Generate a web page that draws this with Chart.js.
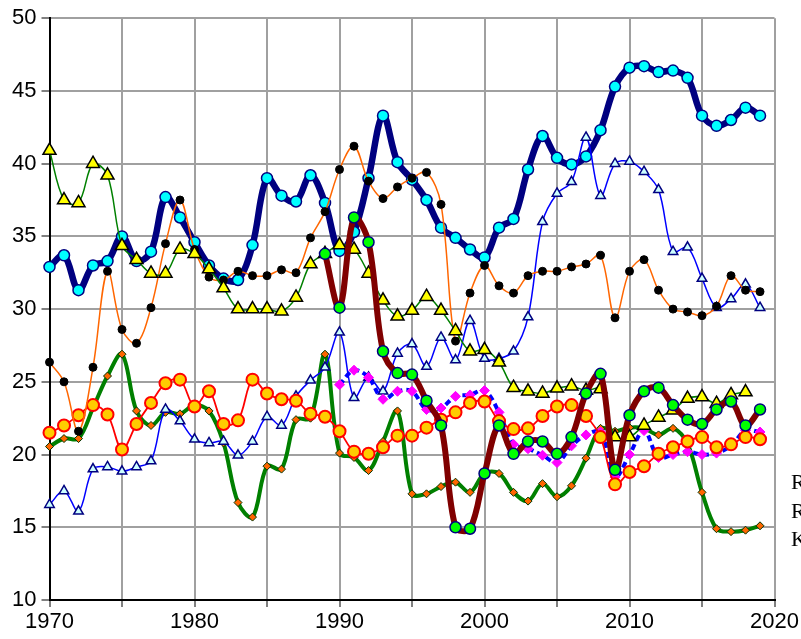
<!DOCTYPE html>
<html>
<head>
<meta charset="utf-8">
<script src="https://cdn.jsdelivr.net/npm/chart.js@4/dist/chart.umd.min.js"></script>
<style>
html,body{margin:0;padding:0;background:#fff;}
#wrap{position:relative;width:801px;height:639px;}
</style>
</head>
<body>
<div id="wrap"><canvas id="c" width="801" height="639"></canvas></div>
<script>
const years = [];
for (let y = 1970; y <= 2019; y++) years.push(y);

const navyCyan = [32.9,33.7,31.3,33.0,33.3,35.0,33.3,33.95,37.7,36.3,34.6,33.0,32.1,32.0,34.4,39.0,37.8,37.4,39.2,37.3,34.0,35.3,39.0,43.3,40.1,38.9,37.5,35.6,34.9,34.1,33.55,35.6,36.2,39.6,41.9,40.4,39.95,40.5,42.3,45.3,46.6,46.7,46.3,46.4,45.9,43.3,42.6,43.0,43.85,43.3];
const orangeBlack = [26.35,25.0,21.6,26.0,32.6,28.6,27.65,30.1,34.5,37.5,34.1,32.2,32.0,32.6,32.3,32.3,32.7,32.5,34.9,36.7,39.6,41.2,38.8,37.6,38.4,39.0,39.4,37.2,27.8,31.1,33.0,31.6,31.1,32.3,32.6,32.6,32.9,33.1,33.7,29.4,32.6,33.4,31.3,30.0,29.8,29.55,30.2,32.3,31.3,31.2];
const greenYellow = [40.9,37.5,37.3,40.0,39.2,34.35,33.4,32.45,32.45,34.1,33.8,32.75,31.45,30.0,30.0,30.0,29.85,30.8,33.1,33.8,34.4,34.1,32.45,30.6,29.5,29.9,30.85,29.9,28.5,27.1,27.2,26.35,24.6,24.35,24.2,24.55,24.7,24.4,24.5,21.2,21.2,22.0,22.55,23.05,23.85,23.95,23.5,24.1,24.3,null];
const blueOpen = [16.55,17.5,16.1,19.0,19.15,18.85,19.15,19.55,23.1,22.3,21.05,20.8,20.9,19.95,20.9,22.6,22.0,24.0,25.1,26.0,28.4,23.9,25.3,24.35,26.95,27.6,26.05,28.05,26.5,29.2,26.6,26.6,27.1,29.45,36.0,37.95,38.75,41.8,37.8,40.0,40.15,39.45,38.2,33.95,34.25,32.1,30.1,30.7,31.7,30.1];
const greenDiamond = [20.55,21.1,21.1,23.2,25.4,26.9,23.0,22.0,22.9,22.8,23.4,23.0,20.8,16.7,15.7,19.2,19.0,22.4,22.5,26.9,20.1,19.8,18.9,20.9,23.0,17.3,17.3,17.8,18.1,17.4,18.7,18.7,17.4,16.8,18.0,17.1,17.85,19.75,21.8,21.6,21.85,21.8,21.35,21.8,20.75,17.4,14.9,14.7,14.8,15.1];
const redGold = [21.5,22.0,22.7,23.4,22.75,20.35,22.1,23.55,24.9,25.15,23.3,24.35,22.1,22.35,25.15,24.2,23.8,23.7,22.8,22.6,21.6,20.2,20.05,20.5,21.3,21.3,21.85,22.4,22.9,23.55,23.65,22.3,21.75,21.8,22.65,23.3,23.4,22.65,21.2,17.95,18.8,19.2,20.05,20.5,20.9,21.2,20.5,20.7,21.2,21.05];
const maroonLime = [null,null,null,null,null,null,null,null,null,null,null,null,null,null,null,null,null,null,null,33.8,30.1,36.3,34.6,27.1,25.6,25.5,23.7,22.0,15.0,14.9,18.7,22.0,20.05,20.9,20.9,20.05,21.2,24.2,25.55,18.95,22.7,24.35,24.6,23.4,22.4,22.1,23.1,23.65,22.0,23.1];
const dashMagenta = [null,null,null,null,null,null,null,null,null,null,null,null,null,null,null,null,null,null,null,null,24.8,25.8,25.3,23.8,24.35,24.35,23.1,23.2,24.0,24.1,24.4,22.9,20.7,20.4,19.95,19.45,20.6,21.35,21.55,18.45,20.0,21.65,19.8,20.0,20.2,20.0,20.1,20.6,21.65,21.55];

const legendLetters = ["R", "R", "K"];
const xLabelYears = [1970,1980,1990,2000,2010,2020];

function pts(vals){ return years.map((yr,i)=>({x:yr, y:vals[i]})); }

const base = {tension:0.35, clip:false, spanGaps:false, pointHoverRadius:6};

const datasets = [
  Object.assign({}, base, {label:'maroon', data:pts(maroonLime), borderColor:'#800000', borderWidth:6,
    pointStyle:'circle', pointRadius:5.5, pointBackgroundColor:'#00ff00', pointBorderColor:'#000080', pointBorderWidth:1.5}),
  Object.assign({}, base, {label:'yellowtri', data:pts(greenYellow), borderColor:'#008000', borderWidth:1.5,
    pointStyle:'triangle', pointRadius:7.5, pointBackgroundColor:'#ffff00', pointBorderColor:'#000000', pointBorderWidth:1.5}),
  Object.assign({}, base, {label:'orange', data:pts(orangeBlack), borderColor:'#ff6600', borderWidth:1.5,
    pointStyle:'circle', pointRadius:4, pointBackgroundColor:'#000000', pointBorderColor:'#000000', pointBorderWidth:1}),
  Object.assign({}, base, {label:'red', data:pts(redGold), borderColor:'#ff0000', borderWidth:1.8,
    pointStyle:'circle', pointRadius:6, pointBackgroundColor:'#ffcc00', pointBorderColor:'#ff0000', pointBorderWidth:2}),
  Object.assign({}, base, {label:'dash', data:pts(dashMagenta), borderColor:'#0000ff', borderWidth:4, borderDash:[6,4],
    pointStyle:'rectRot', pointRadius:5, pointBackgroundColor:'#ff00ff', pointBorderColor:'#ff00ff', pointBorderWidth:1}),
  Object.assign({}, base, {label:'blue', data:pts(blueOpen), borderColor:'#0000ff', borderWidth:1.5,
    pointStyle:'triangle', pointRadius:5.5, pointBackgroundColor:'#ccffff', pointBorderColor:'#000080', pointBorderWidth:1.5}),
  Object.assign({}, base, {label:'navy', data:pts(navyCyan), borderColor:'#000080', borderWidth:6.5,
    pointStyle:'circle', pointRadius:5.5, pointBackgroundColor:'#00ffff', pointBorderColor:'#000080', pointBorderWidth:1.5}),
  Object.assign({}, base, {label:'green', data:pts(greenDiamond), borderColor:'#008000', borderWidth:4,
    pointStyle:'rectRot', pointRadius:4, pointBackgroundColor:'#ff6600', pointBorderColor:'#003300', pointBorderWidth:1})
];

const legendPlugin = {
  id:'edgeLegend',
  afterDraw(chart){
    const ctx = chart.ctx;
    ctx.save();
    ctx.fillStyle = '#000';
    ctx.font = '22px "Liberation Serif", "Times New Roman", serif';
    ctx.textBaseline = 'middle';
    ctx.textAlign = 'left';
    const ys = [483, 512, 540];
    legendLetters.forEach((t,i)=>ctx.fillText(t, 791, ys[i]));
    ctx.restore();
  }
};

const tickFont = {family:'"Liberation Sans", Arial, sans-serif', size:22};

new Chart(document.getElementById('c'), {
  type:'line',
  data:{datasets},
  plugins:[legendPlugin],
  options:{
    responsive:false,
    animation:false,
    devicePixelRatio:1,
    layout:{padding:{left:0, top:17, right:26, bottom:0}},
    plugins:{legend:{display:false}, tooltip:{enabled:false}},
    scales:{
      x:{
        type:'linear', min:1970, max:2020,
        afterFit(s){ s.height = 39; },
        ticks:{stepSize:5, autoSkip:false, maxRotation:0, color:'#000', font:tickFont, padding:2,
          callback:(v)=> xLabelYears.includes(v) ? String(v) : ''},
        grid:{color:'#a0a0a0', lineWidth:2, tickLength:7, tickColor:'#808080'},
        border:{color:'#000', width:2}
      },
      y:{
        min:10, max:50,
        afterFit(s){ s.width = 49.5; },
        ticks:{stepSize:5, color:'#000', font:tickFont, padding:5},
        grid:{color:'#a0a0a0', lineWidth:2, tickLength:8, tickColor:'#808080'},
        border:{color:'#000', width:2}
      }
    }
  }
});
</script>
</body>
</html>
